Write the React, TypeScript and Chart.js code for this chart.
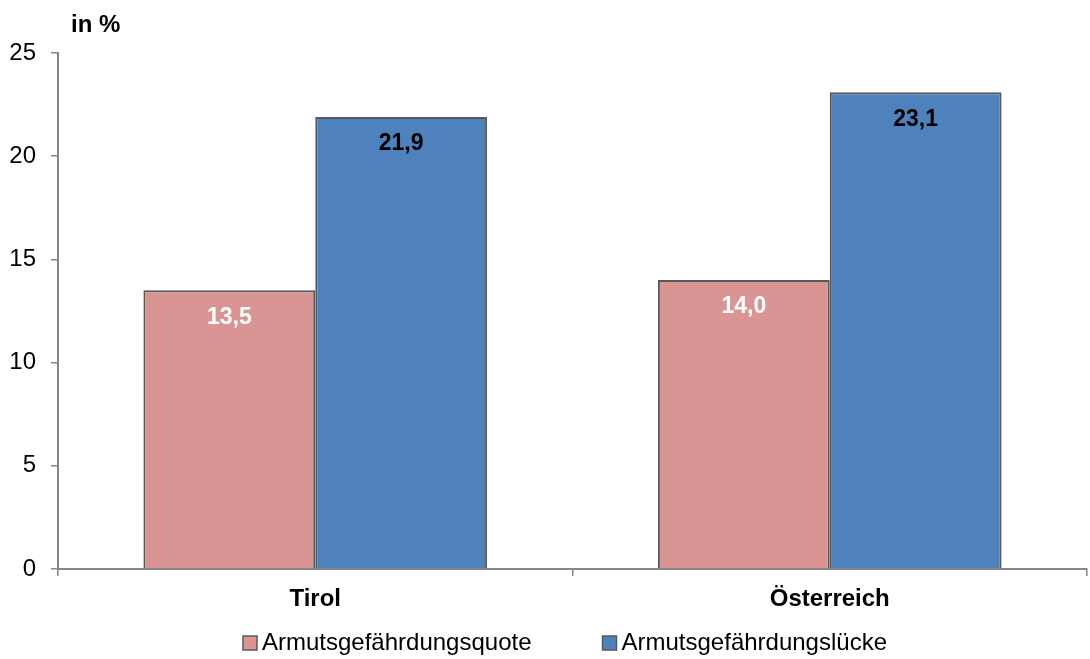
import React, { useEffect, useRef } from "react";
import { Chart, registerables } from "chart.js";

Chart.register(...registerables);

const categories = ["Tirol", "Österreich"];
const seriesNames = ["Armutsgefährdungsquote", "Armutsgefährdungslücke"];
const quoteValues = [13.5, 14.0];
const lueckeValues = [21.9, 23.1];
const yTicks = [0, 5, 10, 15, 20, 25];
const yTitle = "in %";

const FONT = "'Liberation Sans', Arial, sans-serif";
const colors = ["#D99594", "#4F81BD"];
const labelColors = ["#FFFFFF", "#000000"];

const fmt = (v: number) => v.toFixed(1).replace(".", ",");

const extrasPlugin = {
  id: "extras",
  afterDatasetsDraw(chart: any) {
    const ctx = chart.ctx;
    ctx.save();
    ctx.font = `bold 23px ${FONT}`;
    ctx.textAlign = "center";
    ctx.textBaseline = "middle";
    chart.data.datasets.forEach((ds: any, di: number) => {
      const meta = chart.getDatasetMeta(di);
      meta.data.forEach((bar: any, i: number) => {
        ctx.fillStyle = labelColors[di];
        ctx.fillText(fmt(ds.data[i]), bar.x, bar.y + 27);
      });
    });
    // title
    ctx.fillStyle = "#000";
    ctx.textAlign = "left";
    ctx.font = `bold 24px ${FONT}`;
    ctx.fillText(yTitle, 71, 25);
    // legend
    ctx.font = `24px ${FONT}`;
    const box = 14;
    const gapBoxText = 5;
    const gapItems = 71;
    let x = 243;
    const y = 643;
    chart.data.datasets.forEach((ds: any) => {
      ctx.fillStyle = ds.backgroundColor;
      ctx.fillRect(x, y - box / 2, box, box);
      ctx.strokeStyle = "#595959";
      ctx.lineWidth = 1.5;
      ctx.strokeRect(x, y - box / 2, box, box);
      ctx.fillStyle = "#000";
      ctx.textAlign = "left";
      ctx.fillText(ds.label, x + box + gapBoxText, y);
      x += box + gapBoxText + ctx.measureText(ds.label).width + gapItems;
    });
    ctx.restore();
  },
};

export default function App() {
  const ref = useRef<HTMLCanvasElement | null>(null);
  useEffect(() => {
    document.body.style.margin = "0";
    const chart = new Chart(ref.current as HTMLCanvasElement, {
      type: "bar",
      data: {
        labels: categories,
        datasets: [
          {
            label: seriesNames[0],
            data: quoteValues,
            backgroundColor: colors[0],
            borderColor: "#595959",
            borderWidth: 2,
            categoryPercentage: 0.668,
            barPercentage: 1,
          },
          {
            label: seriesNames[1],
            data: lueckeValues,
            backgroundColor: colors[1],
            borderColor: "#595959",
            borderWidth: 2,
            categoryPercentage: 0.668,
            barPercentage: 1,
          },
        ],
      },
      options: {
        animation: false,
        responsive: false,
        maintainAspectRatio: false,
        layout: { padding: { top: 53, right: 3, bottom: 40, left: 0 } },
        plugins: {
          legend: { display: false },
          tooltip: { enabled: false },
        },
        scales: {
          x: {
            grid: {
              offset: true,
              drawOnChartArea: false,
              tickLength: 7,
              color: "#868686",
              lineWidth: 1.5,
            },
            border: { color: "#868686", width: 2 },
            ticks: {
              color: "#000",
              font: { family: FONT, size: 24, weight: "bold" },
              padding: 9,
            },
            afterFit: (s: any) => {
              s.height = 50;
            },
          },
          y: {
            min: 0,
            max: 25,
            afterBuildTicks: (s: any) => {
              s.ticks = yTicks.map((v) => ({ value: v }));
            },
            grid: {
              drawOnChartArea: false,
              tickLength: 7,
              color: "#868686",
              lineWidth: 1.5,
            },
            border: { color: "#868686", width: 2 },
            ticks: {
              color: "#000",
              font: { family: FONT, size: 24 },
              padding: 15,
            },
            afterFit: (s: any) => {
              s.width = 58;
            },
          },
        },
      },
      plugins: [extrasPlugin],
    });
    return () => chart.destroy();
  }, []);
  return (
    <div style={{ width: 1090, height: 659 }}>
      <canvas ref={ref} width={1090} height={659} style={{ display: "block" }} />
    </div>
  );
}
